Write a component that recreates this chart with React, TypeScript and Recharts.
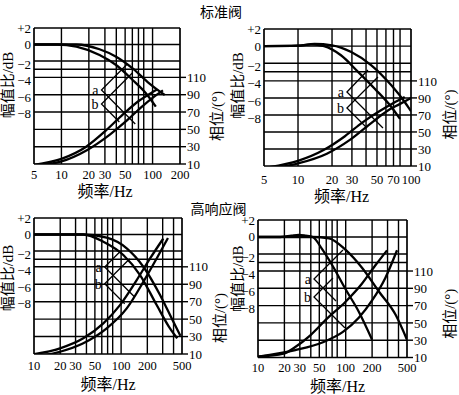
import React from "react";
import {
  ComposedChart,
  Line,
  XAxis,
  YAxis,
  ReferenceLine,
  ReferenceDot,
  Label,
} from "recharts";

type Pt = [number, number];

const FONT_NUM = "'Liberation Serif', 'Times New Roman', 'DejaVu Serif', serif";
const FONT_CJK = "'Liberation Serif', 'Noto Sans CJK SC', serif";

// shared axis ticks
const dbTicks = [2, 0, -2, -4, -6, -8];
const degTicks = [10, 30, 50, 70, 90, 110];
const dbGrid = [0, -2, -3];
const degGrid = [110, 90, 70, 50, 30];

// 标准阀, left panel
const p1Ticks = [5, 10, 20, 30, 50, 100, 200];
const p1Grid = [10, 20, 30, 40, 50, 60, 70, 80, 100];
const p1AmpA: Pt[] = [[5, 0], [14.6, 0], [26.2, -0.58], [39.8, -1.48], [60.4, -2.89], [91.8, -4.71], [136, -6.13]];
const p1AmpB: Pt[] = [[5, 0], [9, 0], [14.6, -0.27], [26.2, -1.28], [39.8, -2.49], [60.4, -4.31], [84.5, -5.92], [108.6, -7.55]];
const p1PhA: Pt[] = [[5, 9], [10, 16], [18.7, 30], [31, 49], [47, 67], [71, 83], [100, 93], [112, 96]];
const p1PhB: Pt[] = [[5, 8], [10, 13], [19, 26], [34, 44], [52, 60], [76, 76], [105, 88], [130, 95]];
const p1MarkA: Pt[] = [[52.8, -2.37], [27.5, -5.52], [64.6, -9.65]];
const p1MarkB: Pt[] = [[59.9, -3.46], [27.5, -7.22], [43.2, -9.41]];

// 标准阀, right panel
const p2Ticks = [5, 10, 20, 30, 50, 70, 100];
const p2Grid = [10, 20, 30, 40, 50, 60, 70, 80];
const p2AmpA: Pt[] = [[5, 0], [10, 0.05], [13, 0.2], [17, 0], [24, -1.07], [34, -3.0], [48, -5.0], [67, -7.1], [80, -8.5]];
const p2AmpB: Pt[] = [[5, 0], [10, 0.05], [14, 0.25], [20, 0.1], [29.6, -0.69], [44.6, -2.24], [67, -4.58], [88, -6.53], [100, -7.6]];
const p2PhA: Pt[] = [[5.5, 8.5], [10, 16], [17, 29], [26, 45], [37, 61], [52, 74], [70, 84], [88, 91]];
const p2PhB: Pt[] = [[5.6, 6.5], [10, 13], [18, 24.5], [29, 41], [43, 59], [62, 75], [80, 83], [100, 90]];
const p2MarkA: Pt[] = [[41.6, -2.79], [27.1, -5.36], [56.5, -9.57]];
const p2MarkB: Pt[] = [[51, -3.61], [27.1, -7.23], [40.8, -9.57]];

// 高响应阀, left panel
const p3Ticks = [10, 20, 30, 50, 100, 200, 500];
const p3Grid = [20, 30, 40, 50, 60, 70, 80, 100, 200, 300, 400];
const p3AmpA: Pt[] = [[10, 0], [36.8, 0], [68.3, -0.39], [116, -1.68], [180, -3.91], [280, -7.34], [398, -10.6], [480, -12.3]];
const p3AmpB: Pt[] = [[10, 0], [36.8, 0], [62.5, -0.88], [106, -2.49], [165, -4.92], [256, -8.56], [364, -11.4], [440, -12.6]];
const p3PhA: Pt[] = [[10, 9.7], [19.9, 16.5], [36.8, 28], [62.5, 45.2], [97, 66.1], [151, 94.8], [215, 119.6], [305, 142.5]];
const p3PhB: Pt[] = [[10, 7], [19.9, 12.6], [36.8, 22.3], [68.3, 39.4], [116, 62.3], [180, 92.8], [256, 119.6], [345, 143]];
const p3MarkA: Pt[] = [[96.4, -2.13], [64.8, -3.95], [143, -7.59]];
const p3MarkB: Pt[] = [[125.5, -2.94], [64.8, -5.97], [110, -8.4]];

// 高响应阀, right panel
const p4Ticks = [10, 20, 30, 50, 100, 200, 500];
const p4Grid = [20, 30, 40, 50, 60, 70, 80, 100, 200, 300, 400];
const p4AmpA: Pt[] = [[10, 0], [18, 0], [24, 0.15], [29, 0.25], [35, 0.15], [42, 0], [53.6, -1.4], [70, -3.3], [99, -6.1], [141, -8.8], [200, -12.1]];
const p4AmpB: Pt[] = [[10, 0], [41.6, 0], [64.5, -0.16], [100, -1.53], [155, -3.69], [240, -6.45], [372, -9.19], [500, -12.1]];
const p4PhA: Pt[] = [[10, 11], [19.6, 14.4], [26.6, 22.1], [39.5, 35.7], [61.2, 54.9], [99, 74.2], [153, 95.3], [218, 116.6], [296, 133.9]];
const p4PhB: Pt[] = [[10, 11], [26.6, 18.5], [56, 28], [93, 39.6], [141, 56], [200, 76], [283, 102], [385, 134]];
const p4MarkA: Pt[] = [[93.1, -1.53], [43.5, -4.95], [77.5, -7.54]];
const p4MarkB: Pt[] = [[71.6, -4.83], [43.5, -7.07], [98.2, -10.72]];

const pts = (a: Pt[]) => a.map(([f, v]) => ({ f, v }));

type PanelCfg = {
  left: number;
  top: number;
  width: number;
  height: number;
  marginTop: number;
  yLeftWidth: number;
  yRightWidth: number;
  xHeight: number;
  xDomain: [number, number];
  xTicks: number[];
  xGrid: number[];
  dbDomain: [number, number];
  degDomain: [number, number];
  amp: Pt[][];
  phase: Pt[][];
  markA: Pt[];
  markB: Pt[];
  xTickMargin: number;
  xTitle: [number, number];
  leftTitle: [number, number];
  rightTitle: [number, number];
};

const DbTick = (props: any) => {
  const { x, y, payload } = props;
  const v = payload.value;
  const s = v > 0 ? `+${v}` : v < 0 ? `\u2212${-v}` : "0";
  return (
    <text x={x} y={y} dy={v < 0 ? 8 : 4.5} textAnchor="end" fontSize={13} fontFamily={FONT_NUM} fill="#000">
      {s}
    </text>
  );
};

const vTitle = (text: string, dx: number, dy: number) => (props: any) => {
  const vb = props.viewBox || { x: 0, y: 0, width: 0, height: 0 };
  const cx = vb.x + dx;
  const cy = vb.y + vb.height / 2 + dy;
  return (
    <text x={cx} y={cy} transform={`rotate(-90 ${cx} ${cy})`} textAnchor="middle" dominantBaseline="central" fontSize={15} fontFamily={FONT_CJK} fill="#000">
      {text}
    </text>
  );
};

const hTitle = (dx: number, dy: number) => (props: any) => {
  const vb = props.viewBox || { x: 0, y: 0, width: 0, height: 0 };
  const cx = vb.x + vb.width / 2 + dx;
  const cy = vb.y + dy;
  return (
    <text x={cx} y={cy} textAnchor="middle" dominantBaseline="central" fontSize={16} fontFamily={FONT_CJK} fill="#000">
      频率/Hz
    </text>
  );
};

function Panel({ c }: { c: PanelCfg }) {
  const grid = { stroke: "#000", strokeWidth: 1.4 };
  const frame = { stroke: "#000", strokeWidth: 1.7 };
  return (
    <div style={{ position: "absolute", left: c.left, top: c.top }}>
      <ComposedChart
        width={c.width}
        height={c.height}
        margin={{ top: c.marginTop, right: 0, bottom: 0, left: 0 }}
      >
        <XAxis
          dataKey="f"
          type="number"
          scale="log"
          domain={c.xDomain}
          allowDataOverflow
          ticks={c.xTicks}
          interval={0}
          tickLine={false}
          axisLine={false}
          tickSize={0}
          tickMargin={c.xTickMargin}
          height={c.xHeight}
          tick={{ fontSize: 12.5, fontFamily: FONT_NUM, fill: "#000" }}
          label={<Label content={hTitle(c.xTitle[0], c.xTitle[1])} />}
        />
        <YAxis
          yAxisId="l"
          type="number"
          domain={c.dbDomain}
          allowDataOverflow
          ticks={dbTicks}
          interval={0}
          width={c.yLeftWidth}
          tickLine={false}
          axisLine={false}
          tickSize={0}
          tickMargin={3}
          tick={<DbTick />}
          label={<Label content={vTitle("幅值比/dB", c.leftTitle[0], c.leftTitle[1])} />}
        />
        <YAxis
          yAxisId="r"
          orientation="right"
          type="number"
          domain={c.degDomain}
          allowDataOverflow
          ticks={degTicks}
          interval={0}
          width={c.yRightWidth}
          axisLine={false}
          tickLine={{ stroke: "#000", strokeWidth: 1.4 }}
          tickSize={6}
          tickMargin={1}
          tick={{ fontSize: 13, fontFamily: FONT_NUM, fill: "#000" }}
          label={<Label content={vTitle("相位/(°)", c.rightTitle[0], c.rightTitle[1])} />}
        />

        {c.xGrid.map((f) => (
          <ReferenceLine key={`x${f}`} x={f} yAxisId="l" {...grid} />
        ))}
        {dbGrid.map((v) => (
          <ReferenceLine key={`d${v}`} y={v} yAxisId="l" {...grid} />
        ))}
        {degGrid.map((v) => (
          <ReferenceLine key={`g${v}`} y={v} yAxisId="r" {...grid} />
        ))}
        <ReferenceLine x={c.xDomain[0]} yAxisId="l" {...frame} />
        <ReferenceLine x={c.xDomain[1]} yAxisId="l" {...frame} />
        <ReferenceLine y={c.dbDomain[1]} yAxisId="l" {...frame} />
        <ReferenceLine y={c.degDomain[0]} yAxisId="r" {...frame} />

        {c.amp.map((s, i) => (
          <Line key={`a${i}`} data={pts(s)} dataKey="v" yAxisId="l" type="monotone" stroke="#000" strokeWidth={2.3} dot={false} isAnimationActive={false} />
        ))}
        {c.phase.map((s, i) => (
          <Line key={`p${i}`} data={pts(s)} dataKey="v" yAxisId="r" type="monotone" stroke="#000" strokeWidth={2.3} dot={false} isAnimationActive={false} />
        ))}
        <Line data={pts(c.markA)} dataKey="v" yAxisId="l" type="linear" stroke="#000" strokeWidth={1.3} dot={false} isAnimationActive={false} />
        <Line data={pts(c.markB)} dataKey="v" yAxisId="l" type="linear" stroke="#000" strokeWidth={1.3} dot={false} isAnimationActive={false} />
        <ReferenceDot
          x={c.markA[1][0]}
          y={c.markA[1][1]}
          yAxisId="l"
          r={0}
          fill="none"
          stroke="none"
          label={{ value: "a", position: "left", offset: 3, fontSize: 14, fontFamily: FONT_NUM, fill: "#000" }}
        />
        <ReferenceDot
          x={c.markB[1][0]}
          y={c.markB[1][1]}
          yAxisId="l"
          r={0}
          fill="none"
          stroke="none"
          label={{ value: "b", position: "left", offset: 3, fontSize: 14, fontFamily: FONT_NUM, fill: "#000" }}
        />
      </ComposedChart>
    </div>
  );
}

const panels: PanelCfg[] = [
  {
    left: 0, top: 0, width: 230, height: 200, marginTop: 28,
    yLeftWidth: 34, yRightWidth: 50, xHeight: 36,
    xDomain: [5, 200], xTicks: p1Ticks, xGrid: p1Grid,
    dbDomain: [-14.5, 2], degDomain: [10, 167],
    amp: [p1AmpA, p1AmpB], phase: [p1PhA, p1PhB], markA: p1MarkA, markB: p1MarkB,
    xTickMargin: 6, xTitle: [-2, 27], leftTitle: [8, -11], rightTitle: [37, 20],
  },
  {
    left: 229, top: 0, width: 230, height: 206, marginTop: 29,
    yLeftWidth: 35, yRightWidth: 48, xHeight: 40,
    xDomain: [5, 100], xTicks: p2Ticks, xGrid: p2Grid,
    dbDomain: [-14, 2], degDomain: [10, 171],
    amp: [p2AmpA, p2AmpB], phase: [p2PhA, p2PhB], markA: p2MarkA, markB: p2MarkB,
    xTickMargin: 9, xTitle: [4, 30], leftTitle: [8.5, -12], rightTitle: [39, 17],
  },
  {
    left: 0, top: 200, width: 230, height: 195, marginTop: 18,
    yLeftWidth: 34, yRightWidth: 48, xHeight: 41,
    xDomain: [10, 500], xTicks: p3Ticks, xGrid: p3Grid,
    dbDomain: [-14.5, 2], degDomain: [10, 166],
    amp: [p3AmpA, p3AmpB], phase: [p3PhA, p3PhB], markA: p3MarkA, markB: p3MarkB,
    xTickMargin: 7.5, xTitle: [0, 30], leftTitle: [7.5, -8], rightTitle: [38, 32],
  },
  {
    left: 229, top: 200, width: 230, height: 195, marginTop: 20,
    yLeftWidth: 29, yRightWidth: 52, xHeight: 37.5,
    xDomain: [10, 500], xTicks: p4Ticks, xGrid: p4Grid,
    dbDomain: [-14.2, 2], degDomain: [10, 169],
    amp: [p4AmpA, p4AmpB], phase: [p4PhA, p4PhB], markA: p4MarkA, markB: p4MarkB,
    xTickMargin: 6, xTitle: [5, 29], leftTitle: [8.5, -10], rightTitle: [43, 25],
  },
];

const titleStyle: React.CSSProperties = {
  position: "absolute",
  fontFamily: "'Noto Sans CJK SC', sans-serif",
  fontSize: 14,
  lineHeight: "14px",
  color: "#000",
  transform: "translate(-50%, -50%)",
  whiteSpace: "nowrap",
};

export default function App() {
  return (
    <div style={{ position: "absolute", left: 0, top: 0, width: 459, height: 395, background: "#fff", overflow: "hidden" }}>
      {panels.map((c, i) => (
        <Panel key={i} c={c} />
      ))}
      <div style={{ ...titleStyle, left: 221, top: 10.5 }}>标准阀</div>
      <div style={{ ...titleStyle, left: 218.5, top: 208 }}>高响应阀</div>
    </div>
  );
}
